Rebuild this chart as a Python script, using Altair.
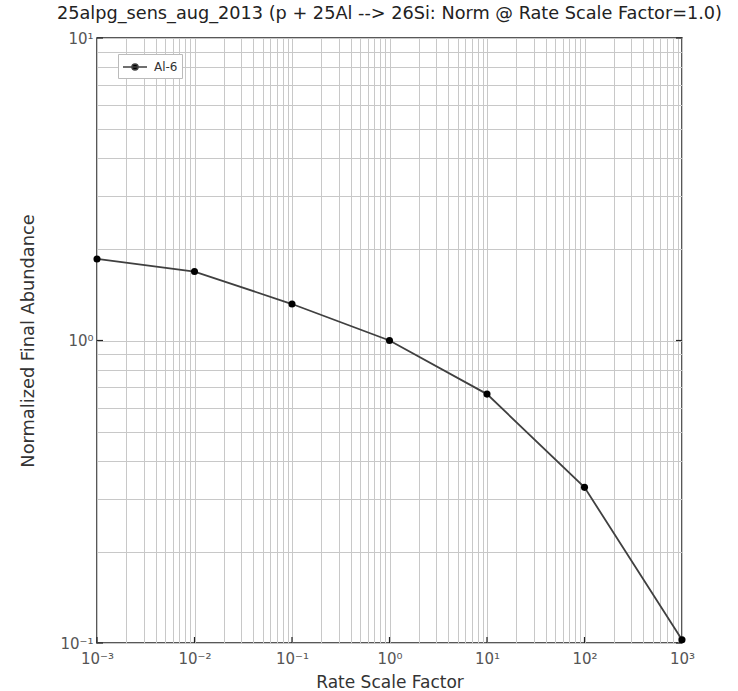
import altair as alt
import pandas as pd

# data
rate_factor = [1e-3, 1e-2, 1e-1, 1e0, 1e1, 1e2, 1e3]
norm_abundance = [1.86, 1.69, 1.32, 1.0, 0.665, 0.327, 0.1025]
series_name = ["Al-6"] * len(rate_factor)

x_decades = [1e-3, 1e-2, 1e-1, 1e0, 1e1, 1e2, 1e3]
y_decades = [1e-1, 1e0, 1e1]
multiples = [1, 2, 3, 4, 5, 6, 7, 8, 9]
x_grid = [m * d for d in x_decades[:-1] for m in multiples] + [x_decades[-1]]
y_grid = [m * d for d in y_decades[:-1] for m in multiples] + [y_decades[-1]]

sup = {-3: "⁻³", -2: "⁻²", -1: "⁻¹", 0: "⁰", 1: "¹", 2: "²", 3: "³"}

def label_expr():
    e = "round(log(datum.value)/LN10)"
    isdec = f"abs(log(datum.value)/LN10 - {e}) < 1e-6"
    inner = "''"
    for k, v in sup.items():
        inner = f"({e} == {k} ? '10{v}' : {inner})"
    return f"{isdec} ? {inner} : ''"

W, H = 585, 605

df = pd.DataFrame({"rate": rate_factor, "norm": norm_abundance, "series": series_name})
xdec = pd.DataFrame({"rate": x_decades})
ydec = pd.DataFrame({"norm": y_decades})

xscale = alt.Scale(type="log", domain=[1e-3, 1e3], nice=False)
yscale = alt.Scale(type="log", domain=[1e-1, 1e1], nice=False)

font = "DejaVu Sans"

x_axis = alt.Axis(
    values=x_grid, grid=True, gridColor="#c8c8c8", gridWidth=1, gridOpacity=1,
    ticks=False, domain=False, labelExpr=label_expr(), labelOverlap=False,
    labelFlush=False, labelFont=font, labelFontSize=15, labelColor="#555555",
    labelPadding=8, title="Rate Scale Factor", titleFont=font, titleFontSize=17,
    titleFontWeight="normal", titleColor="#333333", titlePadding=8,
)
y_axis = alt.Axis(
    values=y_grid, grid=True, gridColor="#c8c8c8", gridWidth=1, gridOpacity=1,
    ticks=False, domain=False, labelExpr=label_expr(), labelOverlap=False,
    labelFlush=False, labelFont=font, labelFontSize=15, labelColor="#555555",
    labelPadding=4, title="Normalized Final Abundance", titleFont=font,
    titleFontSize=17.8, titleFontWeight="normal", titleColor="#333333",
    titlePadding=22,
)

legend_symbol = "M-1,0H2M0.125,0A0.375,0.375,0,1,1,0.875,0A0.375,0.375,0,1,1,0.125,0Z"

line = alt.Chart(df).mark_line(strokeWidth=1.8).encode(
    x=alt.X("rate:Q", scale=xscale, axis=x_axis),
    y=alt.Y("norm:Q", scale=yscale, axis=y_axis),
    color=alt.Color(
        "series:N",
        scale=alt.Scale(range=["#404040"]),
        legend=alt.Legend(
            title=None, orient="none", legendX=21, legendY=16,
            symbolType=legend_symbol, symbolSize=256, symbolFillColor="#000000",
            symbolStrokeColor="#222222", symbolStrokeWidth=1.5,
            labelFont=font, labelFontSize=12, labelColor="#333333",
            fillColor="white", strokeColor="#bbbbbb", padding=4,
            labelOffset=14,
        ),
    ),
)

points = alt.Chart(df).mark_point(filled=True, size=50, opacity=1, color="#000000").encode(
    x="rate:Q", y="norm:Q"
)

tick_bottom = alt.Chart(xdec).mark_rule(color="#222222", strokeWidth=1.2).encode(
    x="rate:Q", y=alt.value(H), y2=alt.value(H - 6)
)
tick_left = alt.Chart(ydec).mark_rule(color="#222222", strokeWidth=1.2).encode(
    y="norm:Q", x=alt.value(0), x2=alt.value(6)
)
tick_right = alt.Chart(ydec).mark_rule(color="#222222", strokeWidth=1.2).encode(
    y="norm:Q", x=alt.value(W), x2=alt.value(W - 6)
)

chart = alt.layer(tick_bottom, tick_left, tick_right, line, points).properties(
    width=W, height=H,
    title=alt.Title(
        "25alpg_sens_aug_2013 (p + 25Al --> 26Si: Norm @ Rate Scale Factor=1.0)",
        font=font, fontSize=17.7, fontWeight="normal", color="#222222",
        anchor="middle", frame="group", baseline="bottom", offset=12, dy=22,
    ),
    autosize=alt.AutoSizeParams(type="none"),
    padding={"left": 97, "top": 38, "right": 56, "bottom": 48},
    background="white",
).configure_view(stroke="#222222", strokeWidth=1.5)

chart.save("out.html", embed_options={"renderer": "svg", "actions": False})
